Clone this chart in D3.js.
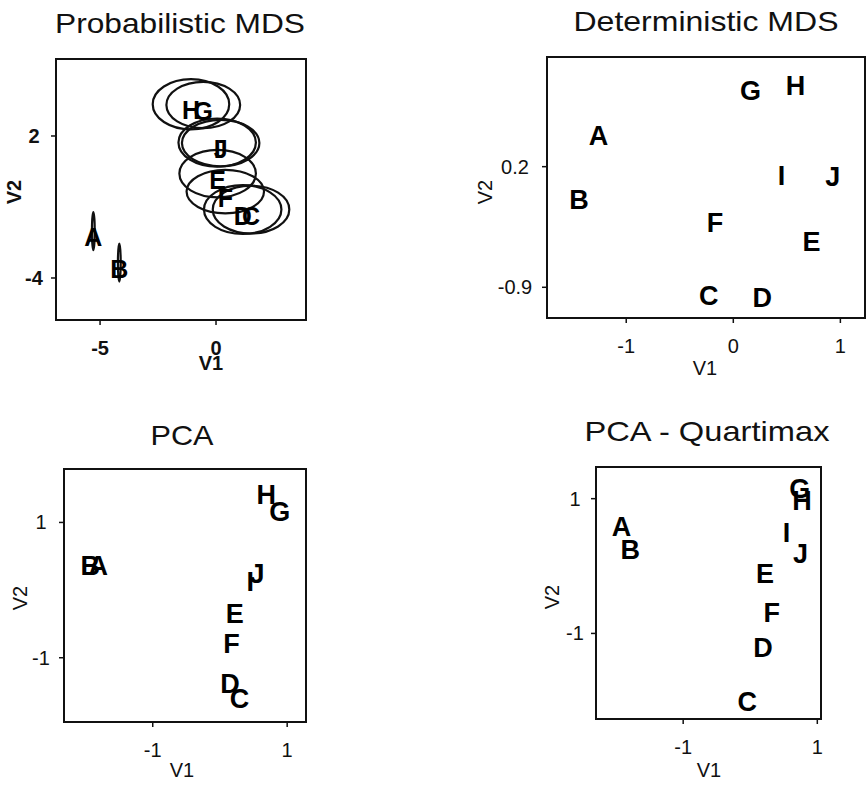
<!DOCTYPE html>
<html>
<head>
<meta charset="utf-8">
<script src="https://cdn.jsdelivr.net/npm/d3@7"></script>
<style>
  body { margin: 0; background: #fff; }
  svg { display: block; font-family: 'Liberation Sans', Arial, sans-serif; }
</style>
</head>
<body>
<div id="chart"></div>
<script>
// objects A..J, same order in every array
const letters = ['A', 'B', 'C', 'D', 'E', 'F', 'G', 'H', 'I', 'J'];

// probabilistic MDS: centres + ellipse half-axes (data units)
const probX = [-5.29, -4.17, 1.51, 1.15, 0.07, 0.40, -0.55, -1.08, 0.05, 0.20];
const probY = [-2.02, -3.35, -1.11, -1.11, 0.41, -0.35, 3.31, 3.34, 1.72, 1.70];
const probRx = [0.06, 0.06, 1.65, 1.67, 1.65, 1.67, 1.59, 1.65, 1.67, 1.67];
const probRy = [0.80, 0.80, 1.01, 1.03, 1.00, 0.92, 0.98, 1.06, 1.02, 0.98];

// deterministic MDS
const detX = [-1.26, -1.44, -0.23, 0.27, 0.73, -0.17, 0.16, 0.58, 0.45, 0.93];
const detY = [0.49, -0.10, -0.97, -0.99, -0.48, -0.31, 0.90, 0.94, 0.12, 0.11];

// PCA
const pcaX = [-1.81, -1.93, 0.29, 0.15, 0.22, 0.17, 0.89, 0.69, 0.45, 0.55];
const pcaY = [0.36, 0.36, -1.60, -1.38, -0.34, -0.78, 1.16, 1.41, 0.13, 0.25];

// PCA - quartimax rotation
const quartX = [-1.92, -1.79, -0.045, 0.19, 0.22, 0.32, 0.74, 0.77, 0.54, 0.75];
const quartY = [0.59, 0.25, -2.00, -1.20, -0.11, -0.69, 1.15, 0.97, 0.50, 0.19];

// tick values
const probXTicks = [-5, 0];
const probYTicks = [2, -4];
const detXTicks = [-1, 0, 1];
const detYTicks = [0.2, -0.9];
const pcaXTicks = [-1, 1];
const pcaYTicks = [1, -1];
const quartXTicks = [-1, 1];
const quartYTicks = [1, -1];

const svg = d3.select('#chart')
  .append('svg')
  .attr('width', 868)
  .attr('height', 785);

svg.append('rect').attr('width', 868).attr('height', 785).attr('fill', '#fff');

class ScatterPanel {
  constructor(_config, _xs, _ys, _rx, _ry) {
    this.config = _config;
    this.data = letters.map((l, i) => ({
      label: l,
      x: _xs[i],
      y: _ys[i],
      rx: _rx ? _rx[i] : null,
      ry: _ry ? _ry[i] : null
    }));
    this.initVis();
  }

  initVis() {
    const vis = this;
    const c = vis.config;

    vis.xScale = d3.scaleLinear().domain(c.xDomain).range([c.left, c.right]);
    vis.yScale = d3.scaleLinear().domain(c.yDomain).range([c.bottom, c.top]);

    vis.g = svg.append('g');
    vis.renderVis();
  }

  renderVis() {
    const vis = this;
    const c = vis.config;
    const weight = c.bold ? 'bold' : 'normal';

    // title
    vis.g.append('text')
      .attr('x', c.titleX)
      .attr('y', c.titleY)
      .attr('text-anchor', 'middle')
      .attr('font-size', 28)
      .attr('textLength', c.titleLen)
      .attr('lengthAdjust', 'spacingAndGlyphs')
      .attr('fill', '#111')
      .text(c.title);

    // box
    vis.g.append('rect')
      .attr('x', c.left)
      .attr('y', c.top)
      .attr('width', c.right - c.left)
      .attr('height', c.bottom - c.top)
      .attr('fill', 'none')
      .attr('stroke', '#111')
      .attr('stroke-width', 2);

    // x ticks
    const xt = vis.g.selectAll('.xtick')
      .data(c.xTicks)
      .join('g')
      .attr('class', 'xtick');
    xt.append('line')
      .attr('x1', d => vis.xScale(d)).attr('x2', d => vis.xScale(d))
      .attr('y1', c.bottom).attr('y2', c.bottom + 5)
      .attr('stroke', '#111').attr('stroke-width', 1.5);
    xt.append('text')
      .attr('x', d => vis.xScale(d))
      .attr('y', c.bottom + 28)
      .attr('dy', '0.35em')
      .attr('text-anchor', 'middle')
      .attr('font-size', 20)
      .attr('font-weight', weight)
      .attr('fill', '#111')
      .text(d => d);

    // y ticks
    const yt = vis.g.selectAll('.ytick')
      .data(c.yTicks)
      .join('g')
      .attr('class', 'ytick');
    yt.append('line')
      .attr('x1', c.left - 5).attr('x2', c.left)
      .attr('y1', d => vis.yScale(d)).attr('y2', d => vis.yScale(d))
      .attr('stroke', '#111').attr('stroke-width', 1.5);
    yt.append('text')
      .attr('x', c.yTickX)
      .attr('y', d => vis.yScale(d))
      .attr('dy', '0.35em')
      .attr('text-anchor', 'middle')
      .attr('font-size', 20)
      .attr('font-weight', weight)
      .attr('fill', '#111')
      .text(d => d);

    // axis titles
    vis.g.append('text')
      .attr('x', c.xLabel[0])
      .attr('y', c.xLabel[1])
      .attr('dy', '0.35em')
      .attr('text-anchor', 'middle')
      .attr('font-size', 20)
      .attr('font-weight', weight)
      .attr('fill', '#111')
      .text('V1');

    vis.g.append('text')
      .attr('transform', `translate(${c.yLabel[0]},${c.yLabel[1]}) rotate(-90)`)
      .attr('dy', '0.35em')
      .attr('text-anchor', 'middle')
      .attr('font-size', 20)
      .attr('font-weight', weight)
      .attr('fill', '#111')
      .text('V2');

    // uncertainty ellipses
    vis.g.selectAll('.ell')
      .data(vis.data.filter(d => d.rx !== null))
      .join('ellipse')
      .attr('class', 'ell')
      .attr('cx', d => vis.xScale(d.x))
      .attr('cy', d => vis.yScale(d.y))
      .attr('rx', d => Math.max(1.2, vis.xScale(d.x + d.rx) - vis.xScale(d.x)))
      .attr('ry', d => vis.yScale(d.y) - vis.yScale(d.y + d.ry))
      .attr('fill', 'none')
      .attr('stroke', '#111')
      .attr('stroke-width', 2.2);

    // point labels
    vis.g.selectAll('.lab')
      .data(vis.data)
      .join('text')
      .attr('class', 'lab')
      .attr('x', d => vis.xScale(d.x))
      .attr('y', d => vis.yScale(d.y) + c.labelDy)
      .attr('dy', '0.36em')
      .attr('text-anchor', 'middle')
      .attr('font-size', c.labelSize)
      .attr('font-weight', 'bold')
      .attr('fill', '#000')
      .text(d => d.label);
  }
}

new ScatterPanel({
  title: 'Probabilistic MDS', titleX: 180, titleY: 33, titleLen: 250,
  left: 56, right: 306, top: 59, bottom: 320,
  xDomain: [-6.9, 3.88], yDomain: [-5.775, 5.253],
  xTicks: probXTicks, yTicks: probYTicks, yTickX: 34,
  xLabel: [211, 363], yLabel: [14, 192],
  labelSize: 25, labelDy: 6, bold: true
}, probX, probY, probRx, probRy);

new ScatterPanel({
  title: 'Deterministic MDS', titleX: 706, titleY: 31, titleLen: 265,
  left: 547, right: 865, top: 57, bottom: 318,
  xDomain: [-1.74, 1.23], yDomain: [-1.18, 1.2],
  xTicks: detXTicks, yTicks: detYTicks, yTickX: 515,
  xLabel: [705, 368], yLabel: [485, 192],
  labelSize: 27, labelDy: 0, bold: false
}, detX, detY);

new ScatterPanel({
  title: 'PCA', titleX: 182, titleY: 445, titleLen: 63,
  left: 64, right: 306, top: 469, bottom: 722,
  xDomain: [-2.32, 1.28], yDomain: [-1.95, 1.79],
  xTicks: pcaXTicks, yTicks: pcaYTicks, yTickX: 41,
  xLabel: [182, 770], yLabel: [20, 598],
  labelSize: 27, labelDy: 0, bold: false
}, pcaX, pcaY);

new ScatterPanel({
  title: 'PCA - Quartimax', titleX: 707, titleY: 441, titleLen: 245,
  left: 596, right: 821, top: 467, bottom: 719,
  xDomain: [-2.30, 1.055], yDomain: [-2.27, 1.47],
  xTicks: quartXTicks, yTicks: quartYTicks, yTickX: 575,
  xLabel: [709, 770], yLabel: [552, 597],
  labelSize: 27, labelDy: 0, bold: false
}, quartX, quartY);
</script>
</body>
</html>
